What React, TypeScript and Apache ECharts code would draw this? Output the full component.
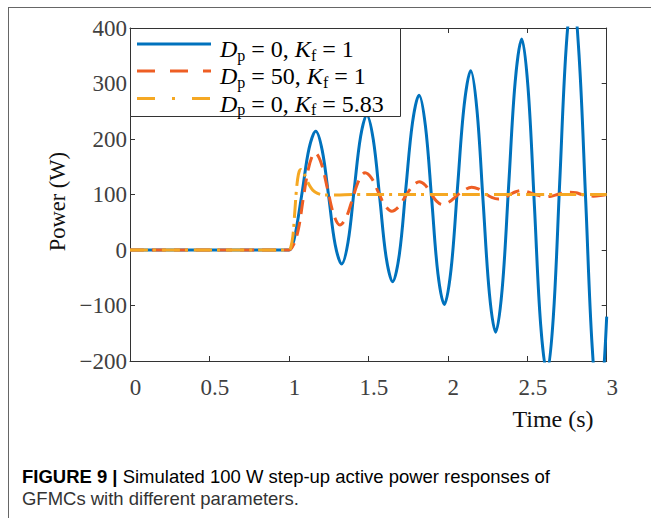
import React, { useEffect, useRef } from "react";
import * as echarts from "echarts";

// ---- data ----
const timeMin = 0;
const timeMax = 3;
const timeInterval = 0.5;
const powerMin = -200;
const powerMax = 400;
const powerInterval = 100;

const dpValues = ["0", "50", "0"];
const kfValues = ["1", "1", "5.83"];

// D_p = 0, K_f = 1 (growing oscillation)
const blueData: [number, number][] = [
  [0, 0], [0.96, 0], [1.0, 0], [1.02, 7], [1.042, 31], [1.085, 107], [1.127, 183], [1.169, 214],
  [1.21, 179], [1.251, 95], [1.291, 10], [1.332, -25],
  [1.372, 14], [1.411, 109], [1.451, 204], [1.49, 243],
  [1.531, 199], [1.572, 93], [1.612, -13], [1.653, -57],
  [1.695, -8], [1.736, 111], [1.778, 230], [1.819, 279],
  [1.859, 224], [1.899, 90], [1.938, -43], [1.978, -98],
  [2.02, -36], [2.061, 112], [2.103, 261], [2.144, 323],
  [2.183, 254], [2.222, 88], [2.262, -79], [2.301, -148],
  [2.342, -71], [2.383, 116], [2.424, 303], [2.465, 380],
  [2.505, 292], [2.545, 80], [2.584, -133], [2.624, -221],
  [2.664, -121], [2.704, 120], [2.745, 365], [2.785, 465],
  [2.826, 351], [2.868, 88], [2.909, -176], [2.95, -285],
  [2.975, -240], [3.0, -120],
];

// D_p = 50, K_f = 1 (damped oscillation)
const redData: [number, number][] = [
  [0, 0], [0.96, 0], [1.0, 0], [1.03, 10], [1.06, 38], [1.09, 92], [1.12, 143], [1.145, 168], [1.165, 175],
  [1.204, 156], [1.243, 110], [1.282, 64], [1.321, 45],
  [1.361, 59], [1.4, 92], [1.44, 125], [1.479, 139],
  [1.521, 129], [1.563, 104], [1.605, 80], [1.647, 70],
  [1.691, 78], [1.734, 97], [1.778, 115], [1.821, 123],
  [1.857, 117], [1.893, 102], [1.929, 88], [1.965, 82],
  [2.011, 87], [2.057, 98], [2.104, 108], [2.15, 113],
  [2.192, 110], [2.234, 102], [2.276, 95], [2.318, 92],
  [2.355, 94], [2.392, 100], [2.428, 105], [2.465, 107],
  [2.501, 105], [2.537, 101], [2.574, 98], [2.61, 96],
  [2.65, 97], [2.69, 100], [2.73, 103], [2.77, 104],
  [2.807, 103], [2.843, 100], [2.88, 98], [2.916, 97],
  [2.96, 98], [3.0, 100],
];

// D_p = 0, K_f = 5.83 (fast, well damped)
const yellowData: [number, number][] = [
  [0, 0], [0.96, 0], [1.0, 0], [1.012, 5], [1.025, 25], [1.035, 60], [1.045, 100], [1.055, 128],
  [1.065, 142], [1.075, 145], [1.09, 141], [1.11, 128], [1.13, 116], [1.15, 108], [1.18, 102],
  [1.22, 99], [1.3, 99], [1.4, 100], [2.0, 100], [3.0, 100],
];

const seriesNames = ["Dp = 0, Kf = 1", "Dp = 50, Kf = 1", "Dp = 0, Kf = 5.83"];
const captionBold = "FIGURE 9 |";
const captionLine1 = " Simulated 100 W step-up active power responses of";
const captionLine2 = "GFMCs with different parameters.";
const xTitle = "Time (s)";
const yTitle = "Power (W)";

// ---- styles ----
const BLUE = "#0072BD";
const RED = "#EE5E24";
const YELLOW = "#F5A823";
const AXIS = "#333333";
const LABEL = "#404040";
const SERIF = "Liberation Serif";
const SANS = "Liberation Sans";

export default function App() {
  const ref = useRef<HTMLDivElement>(null);

  useEffect(() => {
    if (!ref.current) return;
    const chart = echarts.init(ref.current, null, { renderer: "svg" });

    // measure caption to fit the condensed face width of the reference
    let capScale = 0.9;
    try {
      const ctx = document.createElement("canvas").getContext("2d");
      if (ctx) {
        ctx.font = `bold 18px "${SANS}"`;
        const w1 = ctx.measureText(captionBold).width;
        ctx.font = `18px "${SANS}"`;
        const w2 = ctx.measureText(captionLine1).width;
        capScale = 528 / (w1 + w2);
      }
    } catch (e) {}

    const fmtMinus = (v: number) => String(v).replace("-", "\u2212");

    const axisCommon = {
      type: "value" as const,
      axisLine: { show: true, onZero: false, lineStyle: { color: AXIS, width: 1 } },
      axisTick: { show: true, inside: true, length: 5, lineStyle: { color: AXIS, width: 1 } },
      splitLine: { show: false },
    };

    const legendRich = {
      i: { fontFamily: SERIF, fontStyle: "italic", fontSize: 24, color: "#111", lineHeight: 28 },
      n: { fontFamily: SERIF, fontSize: 24, color: "#111", lineHeight: 28 },
      s: { fontFamily: SERIF, fontSize: 16, color: "#111", lineHeight: 12, verticalAlign: "bottom" },
    };
    const legendColors = [BLUE, RED, YELLOW];
    const legendDash: any[] = [null, [18, 15], [18, 17, 3, 17]];
    const legendY = [44, 71, 98.5];

    const legendGraphics: any[] = [
      {
        type: "rect",
        z: 100,
        shape: { x: 130.5, y: 28.5, width: 270, height: 88 },
        style: { fill: "#fff", stroke: AXIS, lineWidth: 1 },
      },
    ];
    seriesNames.forEach((_, k) => {
      legendGraphics.push({
        type: "line",
        z: 101,
        shape: { x1: 137, y1: legendY[k], x2: 211, y2: legendY[k] },
        style: { stroke: legendColors[k], lineWidth: 3, lineDash: legendDash[k] || undefined, lineCap: "butt" },
      });
      legendGraphics.push({
        type: "text",
        z: 101,
        x: 220,
        y: legendY[k] + 5,
        style: {
          text: `{i|D}{s|p}{n| = ${dpValues[k]}, }{i|K}{s|f}{n| = ${kfValues[k]}}`,
          rich: legendRich,
          verticalAlign: "middle",
          align: "left",
        },
      });
    });

    const option: any = {
      animation: false,
      backgroundColor: "#ffffff",
      grid: { left: 130, top: 28, right: 44.3, bottom: 157, containLabel: false },
      xAxis: [
        {
          ...axisCommon,
          min: timeMin,
          max: timeMax,
          interval: timeInterval,
          position: "bottom",
          axisLabel: {
            show: true,
            margin: 15,
            fontFamily: SERIF,
            fontSize: 23,
            color: LABEL,
            padding: [0, 0, 0, 11],
            formatter: fmtMinus,
          },
        },
        {
          ...axisCommon,
          min: timeMin,
          max: timeMax,
          interval: timeInterval,
          position: "top",
          axisLabel: { show: false },
        },
      ],
      yAxis: [
        {
          ...axisCommon,
          min: powerMin,
          max: powerMax,
          interval: powerInterval,
          position: "left",
          axisLabel: {
            show: true,
            margin: 3,
            fontFamily: SERIF,
            fontSize: 23,
            color: LABEL,
            formatter: fmtMinus,
          },
        },
        {
          ...axisCommon,
          min: powerMin,
          max: powerMax,
          interval: powerInterval,
          position: "right",
          axisLabel: { show: false },
        },
      ],
      series: [
        {
          name: seriesNames[0],
          type: "line",
          data: blueData,
          smooth: 0.35,
          showSymbol: false,
          clip: true,
          z: 2,
          lineStyle: { color: BLUE, width: 3 },
        },
        {
          name: seriesNames[1],
          type: "line",
          data: redData,
          smooth: 0.35,
          showSymbol: false,
          clip: true,
          z: 3,
          lineStyle: { color: RED, width: 3, type: [14, 8], cap: "butt" },
        },
        {
          name: seriesNames[2],
          type: "line",
          data: yellowData,
          smooth: 0.35,
          showSymbol: false,
          clip: true,
          z: 4,
          lineStyle: { color: YELLOW, width: 3, type: [18, 5, 3, 6], cap: "butt" },
        },
      ],
      graphic: [
        // outer frame of the figure panel
        { type: "line", z: 50, shape: { x1: 8, y1: 7.5, x2: 651, y2: 7.5 }, style: { stroke: "#666", lineWidth: 1 } },
        { type: "line", z: 50, shape: { x1: 8.5, y1: 7, x2: 8.5, y2: 518 }, style: { stroke: "#666", lineWidth: 1 } },
        ...legendGraphics,
        {
          type: "text",
          z: 50,
          x: 553,
          y: 418.5,
          style: { text: xTitle, fontFamily: SERIF, fontSize: 24, fill: "#111", align: "center", verticalAlign: "middle" },
        },
        {
          type: "text",
          z: 50,
          x: 57.5,
          y: 201.7,
          rotation: Math.PI / 2,
          style: { text: yTitle, fontFamily: SERIF, fontSize: 22.5, fill: "#111", align: "center", verticalAlign: "middle" },
        },
        {
          type: "text",
          z: 50,
          x: 22,
          y: 476.5,
          scaleX: capScale,
          style: {
            text: `{b|${captionBold}}{n|${captionLine1}}`,
            rich: {
              b: { fontFamily: SANS, fontWeight: "bold", fontSize: 18, color: "#1a1a1a" },
              n: { fontFamily: SANS, fontSize: 18, color: "#333" },
            },
            align: "left",
            verticalAlign: "middle",
          },
        },
        {
          type: "text",
          z: 50,
          x: 22,
          y: 498.5,
          scaleX: capScale,
          style: {
            text: captionLine2,
            fontFamily: SANS,
            fontSize: 18,
            fill: "#333",
            align: "left",
            verticalAlign: "middle",
          },
        },
      ],
    };

    chart.setOption(option);
    return () => chart.dispose();
  }, []);

  return (
    <div
      ref={ref}
      style={{ position: "fixed", left: 0, top: 0, width: 651, height: 518, background: "#fff" }}
    />
  );
}
